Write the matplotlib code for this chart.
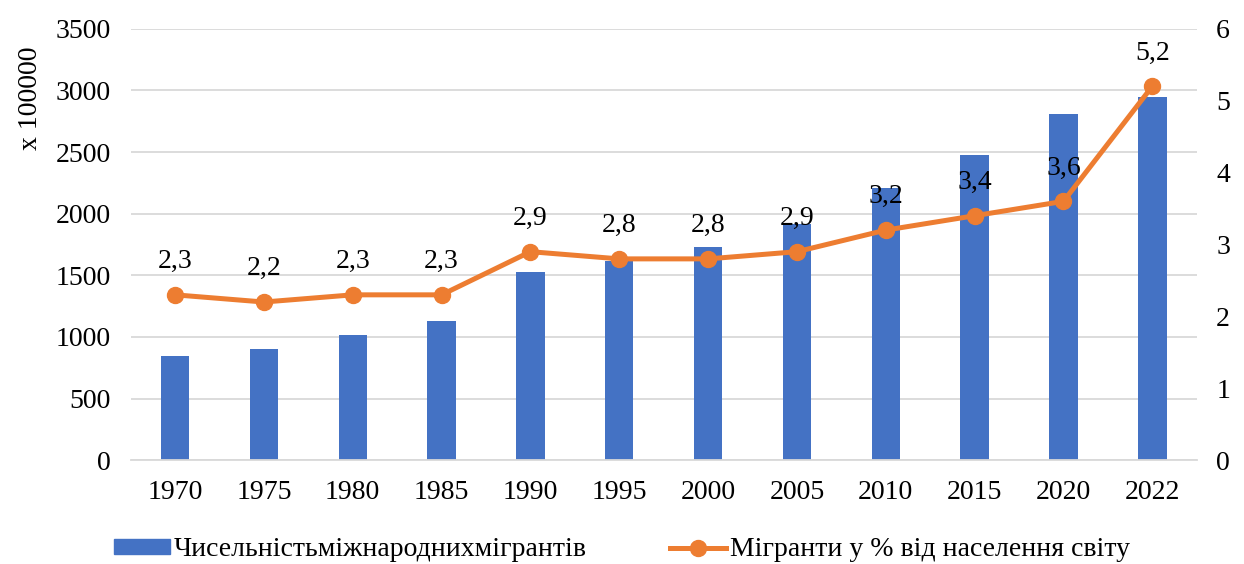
import numpy as np
import matplotlib
matplotlib.use('Agg')
from matplotlib import pyplot as plt
from matplotlib.lines import Line2D
from matplotlib.patches import Patch

# === Data ===
years = ['1970', '1975', '1980', '1985', '1990', '1995', '2000', '2005', '2010', '2015', '2020', '2022']
migrants = [845, 904, 1019, 1133, 1530, 1613, 1732, 1914, 2208, 2479, 2810, 2950]
share = [2.3, 2.2, 2.3, 2.3, 2.9, 2.8, 2.8, 2.9, 3.2, 3.4, 3.6, 5.2]
share_labels = ['2,3', '2,2', '2,3', '2,3', '2,9', '2,8', '2,8', '2,9', '3,2', '3,4', '3,6', '5,2']

bar_color = '#4472C4'
line_color = '#ED7D31'
grid_color = '#D9D9D9'
fs = 20

plt.rcParams['font.family'] = ['Liberation Serif', 'DejaVu Serif']

fig = plt.figure(figsize=[12.44, 5.64], dpi=100)
ax = fig.add_axes([0.105, 0.184, 0.857, 0.765])
x = np.arange(len(years))

ax.bar(x, migrants, width=0.32, color=bar_color, zorder=2)
ax.set_ylim(0, 3500)
ax.set_yticks(np.arange(0, 3501, 500))
ax.set_xlim(-0.5, len(years) - 0.5)
ax.set_xticks(x)
ax.set_xticklabels(years)
ax.yaxis.grid(True, color=grid_color, linewidth=1.3, zorder=0)
ax.set_axisbelow(True)
for sp in ['top', 'right', 'left']:
    ax.spines[sp].set_visible(False)
ax.spines['bottom'].set_color(grid_color)
ax.spines['bottom'].set_linewidth(1.3)
ax.tick_params(axis='y', length=0, labelsize=fs, pad=14)
ax.tick_params(axis='x', length=0, labelsize=fs, pad=14)
ax.set_ylabel('x 100000', fontsize=fs)
ax.yaxis.set_label_coords(-0.082, 0.84)

ax2 = ax.twinx()
ax2.plot(x, share, color=line_color, linewidth=3.6, marker='o', markersize=11.5, zorder=3)
ax2.set_ylim(0, 6)
ax2.set_yticks(np.arange(0, 7, 1))
for sp in ['top', 'right', 'left', 'bottom']:
    ax2.spines[sp].set_visible(False)
ax2.tick_params(axis='y', length=0, labelsize=fs, pad=14)
for xi, v, lab in zip(x, share, share_labels):
    ax2.annotate(lab, (xi, v), xytext=(0, 15), textcoords='offset points',
                 ha='center', va='bottom', fontsize=fs)

handles = [Patch(color=bar_color),
           Line2D([0], [0], color=line_color, linewidth=3.6, marker='o', markersize=11.5)]
labels = ['Чисельністьміжнароднихмігрантів', 'Мігранти у % від населення світу']
fig.legend(handles, labels, loc='center', bbox_to_anchor=(0.5, 0.025), ncol=2,
           frameon=False, fontsize=fs, handlelength=2.0, handleheight=0.5,
           columnspacing=3.0, handletextpad=0.15)

plt.savefig('out.png', dpi=100)
